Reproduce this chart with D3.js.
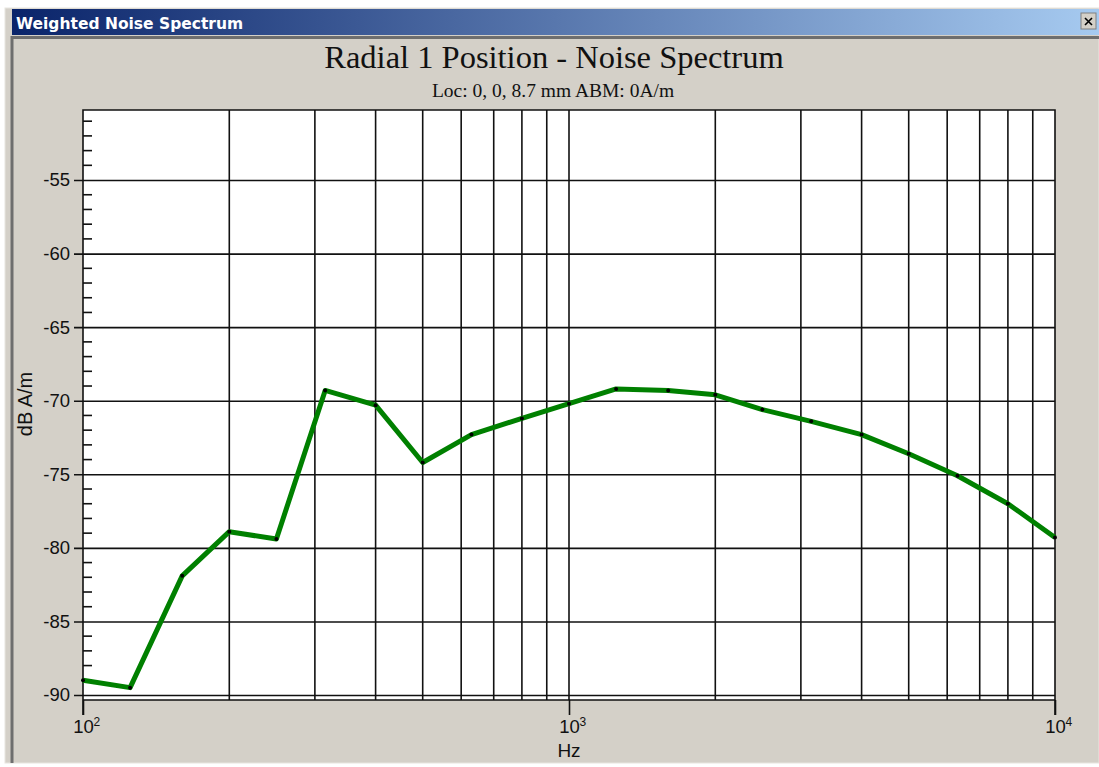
<!DOCTYPE html>
<html>
<head>
<meta charset="utf-8">
<script src="https://cdn.jsdelivr.net/npm/d3@7"></script>
<style>
    body{margin:0;background:#fff;}
    svg{display:block;}
    text{font-family:"Liberation Sans",Arial,sans-serif;}
</style>
</head>
<body>
<svg id="chart"></svg>
<script>
// noise spectrum data
var freqs = [100,125,160,200,250,315,400,500,630,800,1000,1250,1600,2000,2500,3150,4000,5000,6300,8000,10000];
var levels = [-89.0,-89.5,-81.9,-78.9,-79.4,-69.3,-70.3,-74.2,-72.3,-71.2,-70.2,-69.2,-69.3,-69.6,-70.6,-71.4,-72.3,-73.6,-75.1,-77.0,-79.3];
var yTicks = [-55,-60,-65,-70,-75,-80,-85,-90];
var xDecades = [100,1000,10000];
var xGrid = [200,300,400,500,600,700,800,900,1000,2000,3000,4000,5000,6000,7000,8000,9000];

var windowTitle = 'Weighted Noise Spectrum';
var chartTitle = 'Radial 1 Position - Noise Spectrum';
var chartSubtitle = 'Loc: 0, 0, 8.7 mm ABM: 0A/m';
var xLabel = 'Hz';
var yLabel = 'dB A/m';

var W = 1099, H = 767;
var svg = d3.select('svg#chart')
.attr('width',W)
.attr('height',H);

function drawWindow(){
    var defs = svg.append('defs');
    var grad = defs.append('linearGradient')
    .attr('id','caption')
    .attr('x1','0%').attr('x2','100%');
    grad.append('stop').attr('offset','0%').attr('stop-color','#0a246a');
    grad.append('stop').attr('offset','100%').attr('stop-color','#a6caf0');

    // frame
    svg.append('rect')
    .attr('x',5).attr('y',8)
    .attr('width',W-5).attr('height',755)
    .style('fill','#d4d0c8')
    .style('stroke','#e8e6e0');
    svg.append('rect')
    .attr('x',12).attr('y',9)
    .attr('width',W-12).attr('height',26)
    .style('fill','url(#caption)');
    svg.append('text')
    .attr('x',16).attr('y',29)
    .text(windowTitle)
    .style('font-family','"DejaVu Sans",Tahoma,sans-serif')
    .style('font-weight','bold')
    .style('font-size','15.5px')
    .style('fill','#fff');

    // close button
    var btn = svg.append('g').attr('transform','translate(1081,13)');
    btn.append('rect')
    .attr('width',15).attr('height',16)
    .style('fill','#d4d0c8')
    .style('stroke','#808080');
    btn.append('path')
    .attr('d','M4,4L11,11M11,4L4,11')
    .attr('transform','translate(0,1)')
    .style('stroke','#000')
    .style('stroke-width',1.6);

    // sunken border of the client area
    svg.append('path')
    .attr('d','M12,763V37.5H1099')
    .style('fill','none')
    .style('stroke','#6e6e6e')
    .style('stroke-width',3);
}

function drawChart(){
    var left = 83, right = 1055, top = 110, bottom = 700;

    var x = d3.scaleLog()
    .domain([100,10000])
    .range([left,right]);

    var y = d3.scaleLinear()
    .domain([-90.34,-50.24])
    .range([bottom,top]);

    svg.append('text')
    .attr('x',554).attr('y',68)
    .text(chartTitle)
    .style('font-family','"Liberation Serif","Times New Roman",serif')
    .style('font-size','32.5px')
    .style('text-anchor','middle')
    .style('fill','#111');

    svg.append('text')
    .attr('x',553).attr('y',97)
    .text(chartSubtitle)
    .style('font-family','"Liberation Serif","Times New Roman",serif')
    .style('font-size','19.5px')
    .style('text-anchor','middle')
    .style('fill','#111');

    svg.append('rect')
    .attr('x',left).attr('y',top)
    .attr('width',right-left).attr('height',bottom-top)
    .style('fill','#fff');

    // minor y ticks every 1 dB
    var minor = d3.range(-90,-50,1).filter(d=>d%5!==0);
    svg.append('g')
    .selectAll('line')
    .data(minor)
    .enter().append('line')
    .attr('x1',left).attr('x2',left+9)
    .attr('y1',d=>y(d)).attr('y2',d=>y(d))
    .style('stroke','#111')
    .style('stroke-width',1.6);

    // vertical grid
    svg.append('g')
    .selectAll('line')
    .data(xGrid)
    .enter().append('line')
    .attr('x1',d=>x(d)).attr('x2',d=>x(d))
    .attr('y1',top).attr('y2',bottom)
    .style('stroke','#111')
    .style('stroke-width',1.6);

    // y axis with full width gridlines
    var yAxis = svg.append('g')
    .attr('transform','translate('+left+',0)')
    .call(d3.axisLeft(y)
        .tickValues(yTicks)
        .tickSizeInner(-(right-left))
        .tickSizeOuter(0)
        .tickPadding(13)
        .tickFormat(d=>String(d)));
    yAxis.select('.domain').remove();
    yAxis.selectAll('.tick line')
    .attr('x1',-9)
    .style('stroke','#111')
    .style('stroke-width',1.6);
    yAxis.selectAll('.tick text')
    .style('font-size','18.5px')
    .style('font-family','"Liberation Sans",Arial,sans-serif')
    .style('fill','#111');

    // x axis, decade ticks only
    var xAxis = svg.append('g')
    .attr('transform','translate(0,'+bottom+')')
    .call(d3.axisBottom(x)
        .tickValues(xDecades)
        .tickSize(15)
        .tickFormat(''));
    xAxis.select('.domain').remove();
    xAxis.selectAll('.tick line')
    .style('stroke','#111')
    .style('stroke-width',1.6);
    xAxis.selectAll('.tick').each(function(d){
        var g = d3.select(this);
        g.append('text')
        .attr('y',33)
        .text('10')
        .style('text-anchor','middle')
        .style('font-size','18.5px')
        .style('fill','#111');
        g.append('text')
        .attr('x',10).attr('y',26)
        .text(Math.round(Math.log10(d)))
        .style('text-anchor','start')
        .style('font-size','12px')
        .style('fill','#111');
    });

    // plot border
    svg.append('path')
    .attr('d','M'+left+','+(bottom+15)+'V'+top+'H'+right+'V'+(bottom+15))
    .style('fill','none')
    .style('stroke','#111')
    .style('stroke-width',1.6);
    svg.append('line')
    .attr('x1',left).attr('x2',right)
    .attr('y1',bottom).attr('y2',bottom)
    .style('stroke','#111')
    .style('stroke-width',1.6);

    svg.append('text')
    .attr('x',(left+right)/2).attr('y',757)
    .text(xLabel)
    .style('text-anchor','middle')
    .style('font-size','19px')
    .style('fill','#111');

    svg.append('text')
    .attr('transform','translate(32,404) rotate(-90)')
    .text(yLabel)
    .style('text-anchor','middle')
    .style('font-size','20px')
    .style('fill','#111');

    var pts = freqs.map((f,i)=>({f:f,v:levels[i]}));

    var line = d3.line()
    .x(d=>x(d.f))
    .y(d=>y(d.v));

    svg.append('path')
    .datum(pts)
    .attr('d',line)
    .style('fill','none')
    .style('stroke','#008000')
    .style('stroke-width',5)
    .style('stroke-linejoin','round');

    svg.append('g')
    .selectAll('circle')
    .data(pts)
    .enter().append('circle')
    .attr('cx',d=>x(d.f))
    .attr('cy',d=>y(d.v))
    .attr('r',2)
    .style('fill','#000');
}

drawWindow();
drawChart();
</script>
</body>
</html>
